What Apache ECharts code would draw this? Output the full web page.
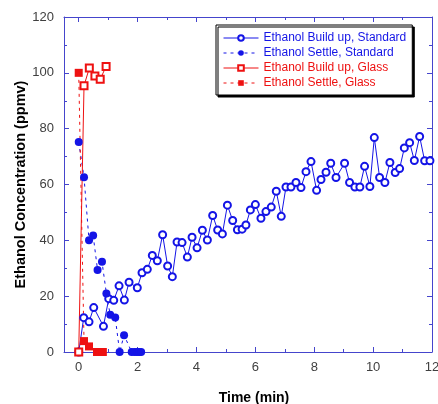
<!DOCTYPE html>
<html>
<head>
<meta charset="utf-8">
<script src="https://cdn.jsdelivr.net/npm/echarts@6/dist/echarts.min.js"></script>
<style>html,body{margin:0;padding:0;background:#fff;}#chart{width:438px;height:404px;}</style>
</head>
<body>
<div id="chart"></div>
<script>
// Ethanol Build up, Standard (open circles, solid)
var buildStdTime = [0, 0.17, 0.35, 0.51, 0.84, 1.02, 1.19, 1.37, 1.55, 1.71, 1.99, 2.15, 2.33, 2.50, 2.67, 2.85, 3.02, 3.18, 3.34, 3.51, 3.69, 3.85, 4.02, 4.20, 4.37, 4.55, 4.72, 4.88, 5.05, 5.23, 5.39, 5.55, 5.68, 5.83, 6.00, 6.19, 6.36, 6.54, 6.71, 6.88, 7.04, 7.21, 7.38, 7.55, 7.72, 7.89, 8.08, 8.23, 8.40, 8.56, 8.74, 9.03, 9.20, 9.38, 9.55, 9.71, 9.89, 10.04, 10.22, 10.40, 10.57, 10.75, 10.90, 11.06, 11.24, 11.40, 11.58, 11.75, 11.93];
var buildStdVal = [0, 12.3, 10.8, 15.9, 9.2, 19.1, 18.5, 23.7, 18.6, 25.0, 23.0, 28.4, 29.6, 34.6, 32.7, 42.0, 30.8, 27.0, 39.4, 39.2, 34.0, 41.1, 37.3, 43.6, 40.1, 48.9, 43.7, 42.3, 52.6, 47.1, 43.8, 44.0, 45.5, 50.9, 52.8, 47.9, 50.3, 51.9, 57.6, 48.6, 59.1, 59.1, 60.7, 58.9, 64.6, 68.2, 57.9, 61.8, 64.4, 67.6, 62.5, 67.6, 60.7, 59.1, 59.1, 66.5, 59.3, 76.8, 62.5, 60.7, 67.9, 64.3, 65.7, 73.1, 75.0, 68.6, 77.2, 68.5, 68.5];
// Ethanol Settle, Standard (filled circles, dashed)
var settleStdTime = [0, 0.18, 0.35, 0.49, 0.64, 0.79, 0.94, 1.07, 1.24, 1.39, 1.54, 1.80, 1.90, 1.98, 2.05, 2.12];
var settleStdVal = [75.2, 62.6, 40.0, 41.7, 29.4, 32.3, 21.0, 13.3, 12.4, 0, 6.0, 0, 0, 0, 0, 0];
// Ethanol Build up, Glass (open squares, solid)
var buildGlassTime = [0, 0.18, 0.36, 0.55, 0.73, 0.93];
var buildGlassVal = [0, 95.4, 101.7, 98.9, 97.7, 102.3];
// Ethanol Settle, Glass (filled squares, dashed)
var settleGlassTime = [0, 0.18, 0.35, 0.62, 0.72, 0.82];
var settleGlassVal = [100, 3.9, 2.0, 0, 0, 0];

var seriesNames = ['Ethanol Build up, Standard', 'Ethanol Settle, Standard', 'Ethanol Build up, Glass', 'Ethanol Settle, Glass'];
var xMajorTicks = [0, 2, 4, 6, 8, 10, 12];
var xMinorTicks = [1, 3, 5, 7, 9, 11];
var yMin = 0, yMax = 120, yStep = 20;
var xMin = -0.5, xMax = 12;

function pairs(t, v) { return t.map(function (x, i) { return [x, v[i]]; }); }

var BLUE = '#1414e6', RED = '#ee1111', AXIS = '#4545cc';
var FONT = 'Liberation Sans, Arial, sans-serif';

function xAx(pos, ticks, len, showLine, showLabel, extra) {
  var a = {
    type: 'value', min: xMin, max: xMax, position: pos,
    axisLine: { show: showLine, onZero: false, lineStyle: { color: AXIS, width: 1 } },
    axisTick: { show: true, inside: true, length: len, customValues: ticks, lineStyle: { color: AXIS } },
    axisLabel: { show: showLabel, customValues: ticks, margin: 9, color: '#404040', fontSize: 13, fontFamily: FONT },
    splitLine: { show: false }
  };
  if (extra) for (var k in extra) a[k] = extra[k];
  return a;
}
function yAx(pos, showLabel, extra) {
  var a = {
    type: 'value', min: yMin, max: yMax, interval: yStep, position: pos,
    axisLine: { show: true, onZero: false, lineStyle: { color: AXIS, width: 1 } },
    axisTick: { show: true, inside: true, length: 5, lineStyle: { color: AXIS } },
    minorTick: { show: true, splitNumber: 2, length: 3, lineStyle: { color: AXIS } },
    axisLabel: { show: showLabel, margin: 10, color: '#404040', fontSize: 13, fontFamily: FONT },
    splitLine: { show: false }
  };
  if (extra) for (var k in extra) a[k] = extra[k];
  return a;
}

var chart = echarts.init(document.getElementById('chart'), null, { renderer: 'canvas' });
chart.setOption({
  animation: false,
  backgroundColor: '#fff',
  grid: { left: 64, right: 6, top: 17, bottom: 52, containLabel: false, outerBoundsMode: 'none' },
  xAxis: [
    xAx('bottom', xMajorTicks, 5, true, true, {
      name: 'Time (min)', nameLocation: 'middle', nameGap: 39, nameMoveOverlap: false,
      nameTextStyle: { fontSize: 14, fontWeight: 'bold', color: '#000', fontFamily: FONT, padding: [0, 0, 0, 12] }
    }),
    xAx('bottom', xMinorTicks, 3, false, false),
    xAx('top', xMajorTicks, 5, true, false),
    xAx('top', xMinorTicks, 3, false, false)
  ],
  yAxis: [
    yAx('left', true, {
      name: 'Ethanol Concentration (ppmv)', nameLocation: 'middle', nameGap: 36, nameMoveOverlap: false,
      nameTextStyle: { fontSize: 14.5, fontWeight: 'bold', color: '#000', fontFamily: FONT, padding: [0, 0, 0, 0] }
    }),
    yAx('right', false)
  ],
  legend: {
    orient: 'vertical', left: 216, top: 25,
    padding: [7, 6, 6, 7], itemWidth: 35, itemHeight: 7, itemGap: 3,
    backgroundColor: '#fff', borderColor: '#000', borderWidth: 1, borderRadius: 0,
    shadowColor: '#000', shadowOffsetX: 2, shadowOffsetY: 2, shadowBlur: 0,
    lineStyle: { width: 1 },
    textStyle: { fontSize: 12, fontFamily: FONT },
    data: [
      { name: seriesNames[0], textStyle: { color: BLUE } },
      { name: seriesNames[1], textStyle: { color: BLUE } },
      { name: seriesNames[2], textStyle: { color: RED } },
      { name: seriesNames[3], textStyle: { color: RED } }
    ]
  },
  series: [
    {
      name: seriesNames[0], type: 'line', data: pairs(buildStdTime, buildStdVal),
      symbol: 'emptyCircle', symbolSize: 7,
      lineStyle: { color: BLUE, width: 1, type: 'solid' },
      itemStyle: { color: BLUE, borderColor: BLUE, borderWidth: 1 }
    },
    {
      name: seriesNames[1], type: 'line', data: pairs(settleStdTime, settleStdVal),
      symbol: 'circle', symbolSize: 8,
      lineStyle: { color: BLUE, width: 1, type: [3, 4] },
      itemStyle: { color: BLUE }
    },
    {
      name: seriesNames[2], type: 'line', data: pairs(buildGlassTime, buildGlassVal),
      symbol: 'emptyRect', symbolSize: 7,
      lineStyle: { color: RED, width: 1, type: 'solid' },
      itemStyle: { color: RED, borderColor: RED, borderWidth: 1 }
    },
    {
      name: seriesNames[3], type: 'line', data: pairs(settleGlassTime, settleGlassVal),
      symbol: 'rect', symbolSize: 8,
      lineStyle: { color: RED, width: 1, type: [3, 4] },
      itemStyle: { color: RED }
    }
  ]
});
</script>
</body>
</html>
